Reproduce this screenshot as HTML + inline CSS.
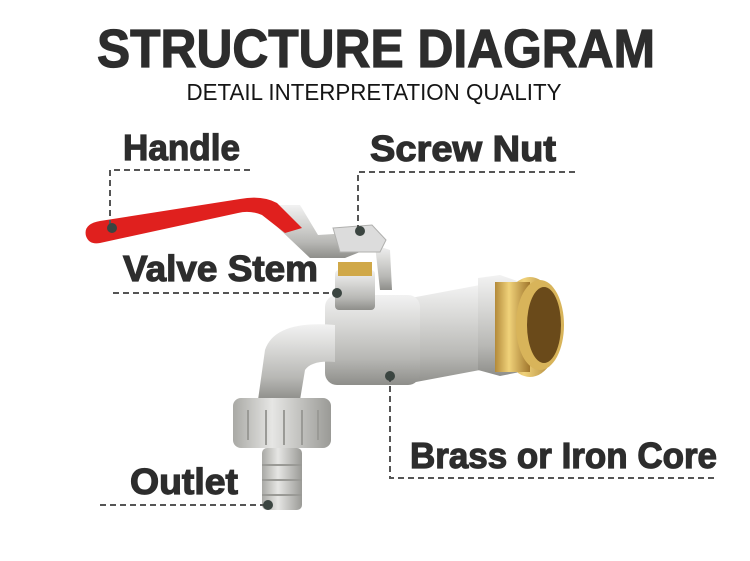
<!DOCTYPE html>
<html><head><meta charset="utf-8"><style>
html,body{margin:0;padding:0;background:#fff;width:750px;height:561px;overflow:hidden}
svg{display:block}
text{font-family:"Liberation Sans",sans-serif;fill:#2d2d2d;font-weight:bold}
.lab{stroke:#2d2d2d;stroke-width:1.2}
</style></head><body>
<svg width="750" height="561" viewBox="0 0 750 561">
<defs>
<linearGradient id="chrome" x1="0" y1="0" x2="0" y2="1">
<stop offset="0" stop-color="#f2f2f2"/><stop offset="0.35" stop-color="#d6d6d4"/><stop offset="0.7" stop-color="#b8b8b5"/><stop offset="1" stop-color="#8e8e8a"/></linearGradient>
<linearGradient id="chromeV" x1="0" y1="0" x2="1" y2="0">
<stop offset="0" stop-color="#a9a9a5"/><stop offset="0.4" stop-color="#e6e6e4"/><stop offset="1" stop-color="#9a9a96"/></linearGradient>
<linearGradient id="brass" x1="0" y1="0" x2="1" y2="0">
<stop offset="0" stop-color="#b38a3a"/><stop offset="0.4" stop-color="#f0d27a"/><stop offset="1" stop-color="#a0762c"/></linearGradient>
</defs>
<text x="376" y="67" font-size="54" text-anchor="middle" textLength="558" lengthAdjust="spacingAndGlyphs" class="lab">STRUCTURE DIAGRAM</text>
<text x="374" y="100" font-size="23" style="font-weight:normal;fill:#151515" text-anchor="middle" textLength="375" lengthAdjust="spacingAndGlyphs">DETAIL INTERPRETATION QUALITY</text>

<g>
<path d="M400 300 L480 285 L490 285 L490 365 L480 370 L400 385 Z" fill="url(#chrome)"/>
<path d="M478 278 L500 275 L520 282 L520 372 L500 376 L478 370 Z" fill="url(#chrome)"/>
<ellipse cx="530" cy="327" rx="30" ry="50" fill="url(#brass)"/>
<rect x="495" y="282" width="35" height="90" fill="url(#brass)"/>
<ellipse cx="540" cy="325" rx="24" ry="45" fill="#d8b45a"/>
<ellipse cx="544" cy="325" rx="17" ry="38" fill="#6a4a1a"/>
<rect x="325" y="295" width="95" height="90" rx="12" fill="url(#chrome)"/>
<path d="M335 325 Q275 320 265 350 L258 400 L300 400 L305 370 Q312 360 335 362 Z" fill="url(#chrome)"/>
<rect x="233" y="398" width="98" height="50" rx="8" fill="url(#chromeV)"/>
<g stroke="#9a9a96" stroke-width="2"><line x1="248" y1="410" x2="248" y2="440"/><line x1="266" y1="410" x2="266" y2="445"/><line x1="284" y1="410" x2="284" y2="445"/><line x1="302" y1="410" x2="302" y2="445"/><line x1="318" y1="410" x2="318" y2="440"/></g>
<rect x="262" y="448" width="40" height="62" rx="5" fill="url(#chromeV)"/>
<g stroke="#9a9a96" stroke-width="2"><line x1="262" y1="465" x2="302" y2="465"/><line x1="262" y1="480" x2="302" y2="480"/><line x1="262" y1="495" x2="302" y2="495"/></g>
<rect x="335" y="270" width="40" height="40" rx="4" fill="url(#chrome)"/>
<rect x="338" y="262" width="34" height="14" fill="#d0a848"/>
<path d="M272 205 L300 205 L318 235 L350 233 L365 250 L345 258 L310 258 L272 222 Z" fill="url(#chrome)"/>
<path d="M375 245 L390 250 L392 290 L380 290 Z" fill="url(#chrome)"/>
<path d="M333 228 L372 225 L386 240 L380 252 L340 252 Z" fill="#dcdcdc" stroke="#b0b0ae"/>
<path d="M86 236 Q83 224 100 221 L240 199 Q262 195 277 203 L302 228 L285 233 L262 215 Q250 210 238 213 L100 243 Q89 245 86 236 Z" fill="#e0201e"/>
</g>

<g stroke="#555" stroke-width="2" stroke-dasharray="6,4" fill="none">
<path d="M250 170 H110 V228"/>
<path d="M575 172 H358 V231"/>
<path d="M113 293 H337"/>
<path d="M390 376 V478 H718"/>
<path d="M100 505 H268"/>
</g>
<g fill="#3b4541">
<circle cx="112" cy="228" r="5"/><circle cx="360" cy="231" r="5"/><circle cx="337" cy="293" r="5"/><circle cx="390" cy="376" r="5"/><circle cx="268" cy="505" r="5"/>
</g>

<text class="lab" x="123" y="160" font-size="36" textLength="117" lengthAdjust="spacingAndGlyphs">Handle</text>
<text class="lab" x="370" y="161" font-size="36" textLength="186" lengthAdjust="spacingAndGlyphs">Screw Nut</text>
<text class="lab" x="123" y="281" font-size="36" textLength="195" lengthAdjust="spacingAndGlyphs">Valve Stem</text>
<text class="lab" x="410" y="468" font-size="36" textLength="307" lengthAdjust="spacingAndGlyphs">Brass or Iron Core</text>
<text class="lab" x="130" y="494" font-size="36" textLength="108" lengthAdjust="spacingAndGlyphs">Outlet</text>
</svg>
</body></html>
